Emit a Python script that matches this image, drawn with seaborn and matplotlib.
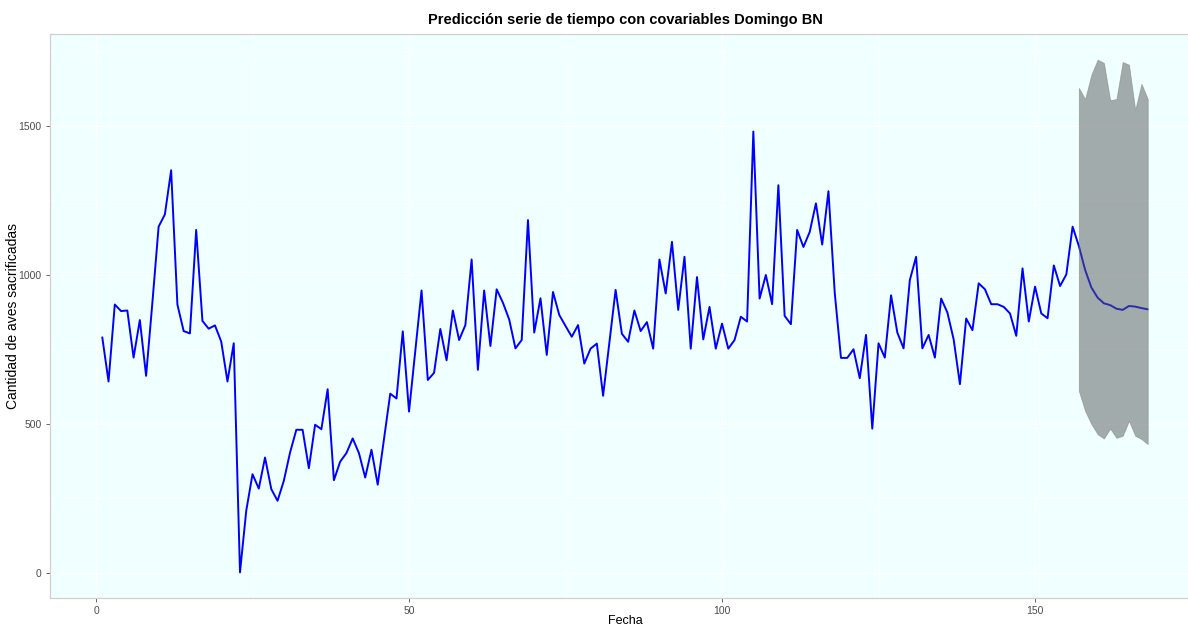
import numpy as np
import pandas as pd
import matplotlib
matplotlib.use("Agg")
import matplotlib.pyplot as plt
import seaborn as sns

# Observed weekly series (Sunday, BN plant), periods 1..156
observed = [
    790, 642, 900, 878, 880, 722, 848, 661, 905, 1161,
    1202, 1350, 900, 811, 803, 1150, 845, 819, 830, 776,
    642, 770, 2, 209, 331, 283, 387, 281, 242, 309,
    404, 480, 480, 351, 497, 482, 616, 311, 373, 402,
    451, 402, 320, 413, 296, 449, 601, 585, 810, 541,
    744, 947, 647, 671, 818, 713, 880, 781, 831, 1051,
    681, 947, 761, 951, 906, 850, 753, 781, 1183, 806,
    921, 731, 942, 865, 828, 792, 831, 702, 752, 769,
    594, 772, 949, 802, 775, 880, 811, 841, 752, 1051,
    937, 1110, 882, 1060, 752, 992, 783, 892, 752, 836,
    752, 781, 859, 843, 1480, 920, 999, 901, 1300, 862,
    834, 1150, 1093, 1143, 1239, 1101, 1280, 940, 721, 721,
    750, 653, 798, 484, 770, 722, 931, 806, 753, 982,
    1060, 753, 798, 722, 920, 873, 783, 633, 853, 814,
    971, 951, 901, 901, 892, 870, 795, 1021, 843, 960,
    870, 854, 1031, 962, 1001, 1161,
]

# Forecast with covariates, periods 157..168, and its interval
forecast = [1096, 1016, 957, 923, 904, 898, 886, 882, 895, 893, 888, 884]
upper = [1626, 1589, 1671, 1721, 1710, 1585, 1589, 1713, 1704, 1553, 1640, 1589]
lower = [610, 543, 499, 465, 451, 484, 453, 460, 510, 460, 449, 432]

t_obs = np.arange(1, len(observed) + 1)
t_fc = np.arange(len(observed) + 1, len(observed) + 1 + len(forecast))

series = pd.DataFrame({
    "Fecha": np.concatenate([t_obs, t_fc]),
    "valor": observed + forecast,
})
band = pd.DataFrame({"Fecha": t_fc, "lo": lower, "hi": upper})

sns.set_theme(style="white")
plt.rcParams["font.family"] = ["Liberation Sans", "DejaVu Sans"]

W, H = 1188, 628
fig = plt.figure(figsize=(W / 100, H / 100), dpi=100)
fig.patch.set_facecolor("white")
# panel spans past the right edge of the canvas
left, right, top, bottom = 50, 1200, 34, 598
ax = fig.add_axes([left / W, 1 - bottom / H, (right - left) / W, (bottom - top) / H])
ax.set_facecolor("#F0FFFF")

# white grid (major + minor), as in a light ggplot theme
for v in [0, 50, 100, 150]:
    ax.axvline(v, color="white", lw=1.0, zorder=0)
for v in [25, 75, 125, 175]:
    ax.axvline(v, color="white", lw=0.5, zorder=0)
for v in [0, 500, 1000, 1500]:
    ax.axhline(v, color="white", lw=1.0, zorder=0)
for v in [250, 750, 1250, 1750]:
    ax.axhline(v, color="white", lw=0.5, zorder=0)

sns.lineplot(data=series, x="Fecha", y="valor", ax=ax, color="#0000FF",
             lw=1.4, zorder=2)
ax.fill_between(band["Fecha"], band["lo"], band["hi"], color="#555858",
                alpha=0.5, lw=0.6, edgecolor="#7a7a6a", zorder=3)

# ggplot-style 5% expansion
xmin, xmax = series["Fecha"].min(), series["Fecha"].max()
ymin = min(series["valor"].min(), band["lo"].min())
ymax = max(series["valor"].max(), band["hi"].max())
dx, dy = 0.05 * (xmax - xmin), 0.05 * (ymax - ymin)
ax.set_xlim(xmin - dx, xmax + dx)
ax.set_ylim(ymin - dy, ymax + dy)

ax.set_xticks([0, 50, 100, 150])
ax.set_yticks([0, 500, 1000, 1500])
ax.tick_params(axis="both", which="major", length=3, width=0.6,
               color="#4D4D4D", labelsize=7.5, labelcolor="#4D4D4D",
               bottom=True, left=True, pad=3)
for s in ax.spines.values():
    s.set_color("#D0D0D0")
    s.set_linewidth(0.9)

ax.set_xlabel("")
ax.set_ylabel("")
fig.text((left + right) / 2 / W, 1 - 621 / H, "Fecha",
         ha="center", va="center", fontsize=9, color="black")
fig.text(13 / W, 1 - (top + bottom) / 2 / H, "Cantidad de aves sacrificadas",
         ha="center", va="center", rotation=90, fontsize=10, color="black")
fig.text((left + right) / 2 / W, 1 - 20 / H,
         "Predicción serie de tiempo con covariables Domingo BN",
         ha="center", va="center", fontsize=10.5, fontweight="bold",
         color="black")

fig.savefig("out.png", dpi=100, facecolor="white")
